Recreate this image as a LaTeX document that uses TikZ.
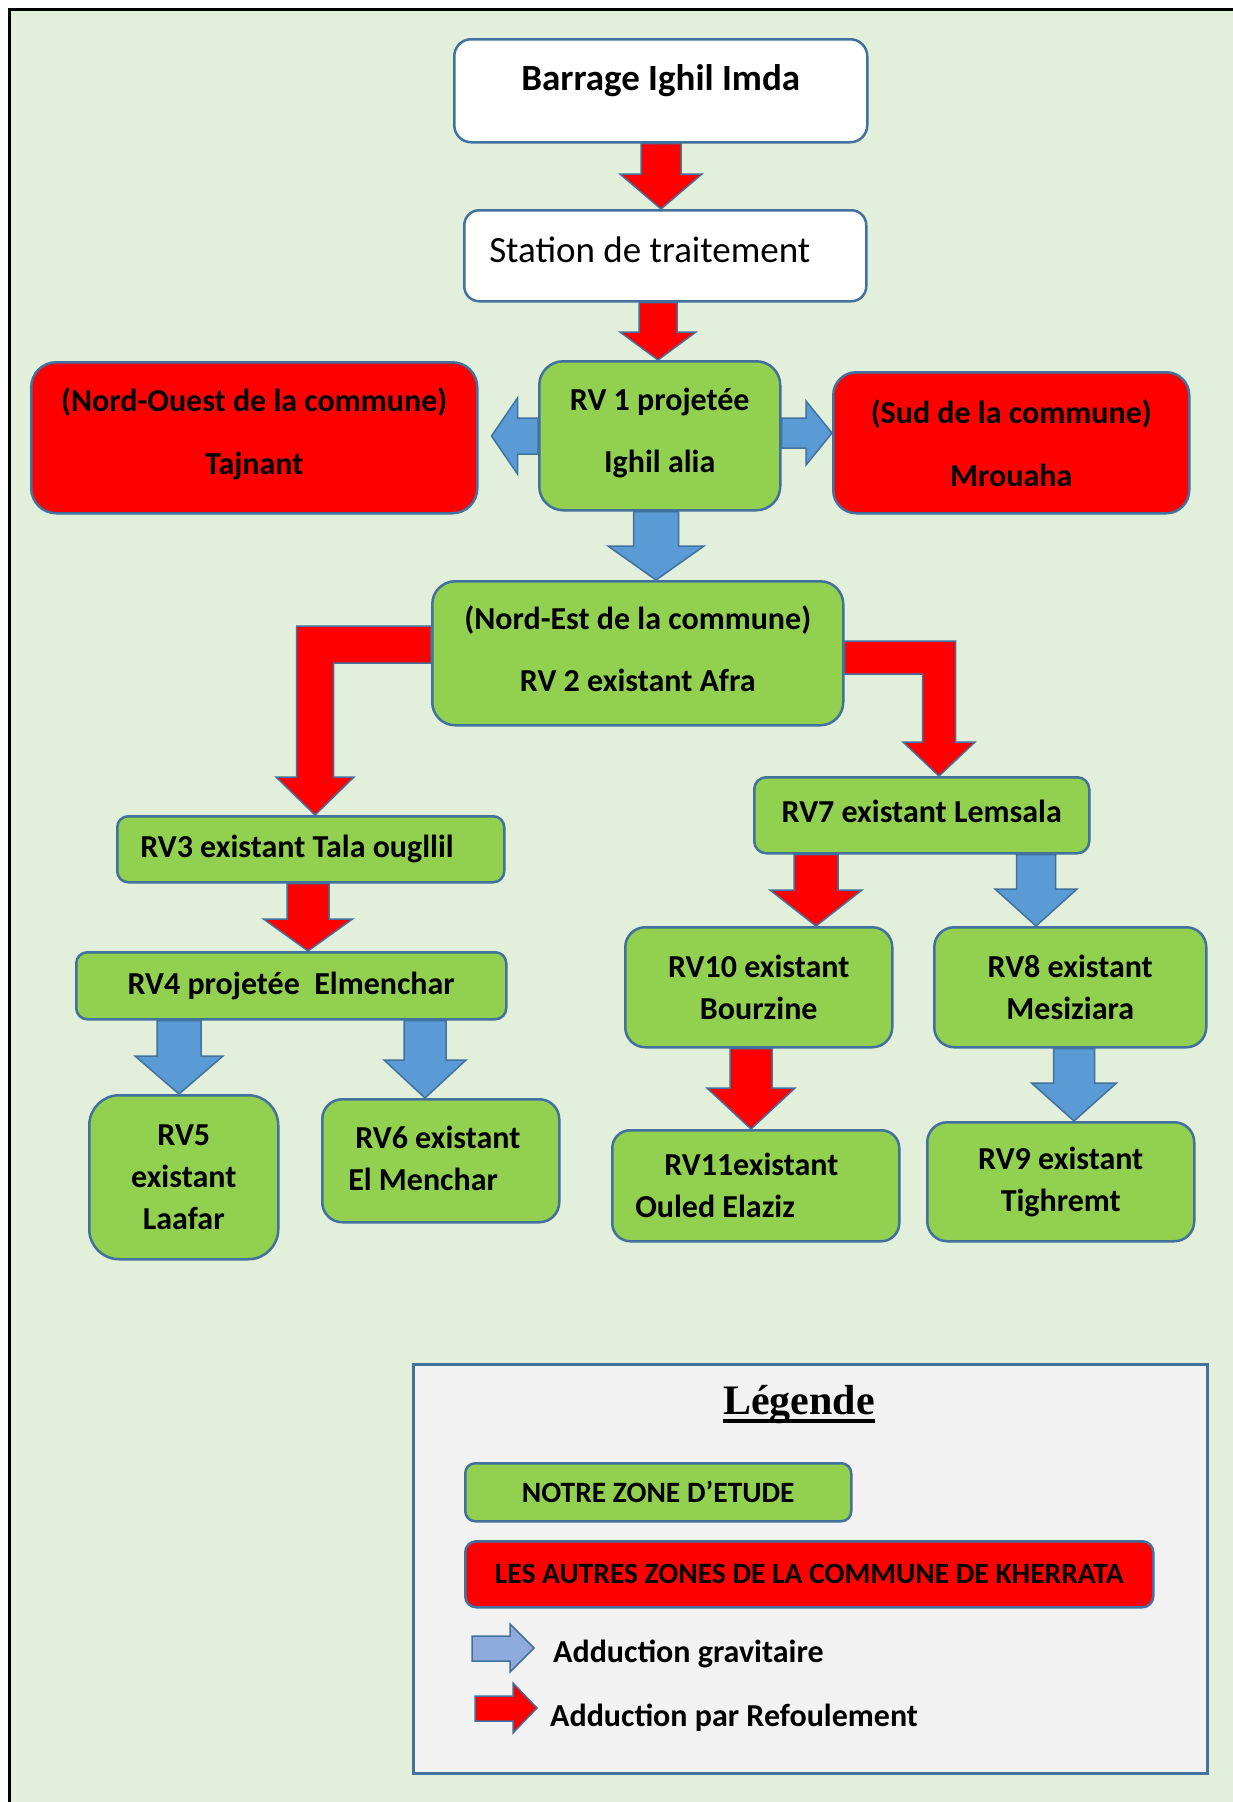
\documentclass[tikz,border=0pt]{standalone}
\usepackage{fontspec}
\setmainfont{Carlito}
\newfontfamily\timesfont{Liberation Serif}
\usetikzlibrary{calc}
\definecolor{bgg}{HTML}{E2EFDA}
\definecolor{boxg}{HTML}{92D050}
\definecolor{redc}{HTML}{FF0000}
\definecolor{bluec}{HTML}{5B9BD5}
\definecolor{bord}{HTML}{41719C}
\definecolor{legfill}{HTML}{F2F2F2}
\definecolor{lblue}{HTML}{8FAADC}

% vertical block arrow: style, x, top anchor, tip anchor, shaft half, head half, head length
\newcommand\vblk[7]{%
  \draw[#1] let \p1=(#3), \p2=(#4) in
   (#2pt-#5pt,\y1) -- (#2pt+#5pt,\y1) -- (#2pt+#5pt,\y2+#7pt) -- (#2pt+#6pt,\y2+#7pt)
   -- (#2pt,\y2) -- (#2pt-#6pt,\y2+#7pt) -- (#2pt-#5pt,\y2+#7pt) -- cycle;}
% horizontal block arrow: style, y, base anchor, tip anchor, shaft half, head half, signed head length
\newcommand\hblk[7]{%
  \draw[#1] let \p1=(#3), \p2=(#4) in
   (\x1,-#2pt+#5pt) -- (\x2+#7pt,-#2pt+#5pt) -- (\x2+#7pt,-#2pt+#6pt) -- (\x2,-#2pt)
   -- (\x2+#7pt,-#2pt-#6pt) -- (\x2+#7pt,-#2pt-#5pt) -- (\x1,-#2pt-#5pt) -- cycle;}

\tikzset{
  zbox/.style={draw=bord, line width=2.5pt, inner sep=0pt, anchor=north west, align=center,
    font=\bfseries\fontsize{32}{42}\selectfont},
  wh/.style 2 args={minimum width=#1pt, minimum height=#2pt},
  rc/.style={rounded corners=#1pt},
  gfill/.style={fill=boxg},
  rfill/.style={fill=redc},
  redarr/.style={draw=bord, line width=1.5pt, fill=redc},
  bluarr/.style={draw=bord, line width=1.5pt, fill=bluec},
}

\begin{document}
\begin{tikzpicture}[x=1pt,y=-1pt]
\useasboundingbox (0,0) rectangle (1233,1802);
\fill[white] (0,0) rectangle (1233,1802);
\fill[bgg] (9,9) rectangle (1233,1802);
\draw[black, line width=3pt] (9,1802) -- (9,9) -- (1233,9);

% boxes
\node[zbox, fill=white, wh={413}{103}, rc=17, text height=0pt, text depth=0pt,
  font=\bfseries\fontsize{37}{43}\selectfont] (barrage) at (453,38) {Barrage Ighil Imda};
\node[zbox, fill=white, wh={402}{91}, rc=15, font=\fontsize{37}{43}\selectfont,
  text width=352pt, inner xsep=25pt, align=flush left, text depth=12pt] (station) at (463,209) {Station de traitement};
\node[zbox, gfill, wh={241}{149}, rc=24, font=\bfseries\fontsize{32}{62}\selectfont, text depth=10pt] (rv1) at (538,360) {RV 1 projetée\\Ighil alia};
\node[zbox, rfill, wh={446}{151}, rc=25, font=\bfseries\fontsize{32}{63}\selectfont, text depth=14pt] (nw) at (30,361) {(Nord-Ouest de la commune)\\Tajnant};
\node[zbox, rfill, wh={356}{141}, rc=23, font=\bfseries\fontsize{32}{63}\selectfont] (sud) at (832,371) {(Sud de la commune)\\Mrouaha};
\node[zbox, gfill, wh={411}{144}, rc=23, font=\bfseries\fontsize{32}{62}\selectfont, text depth=9pt] (rv2) at (431,580) {(Nord-Est de la commune)\\RV 2 existant Afra};
\node[zbox, gfill, wh={387}{66}, rc=11, text width=341pt, inner xsep=23pt, align=flush left] (rv3) at (116,815) {RV3 existant Tala ougllil};
\node[zbox, gfill, wh={335}{76}, rc=12, text depth=7pt] (rv7) at (753,776) {RV7 existant Lemsala};
\node[zbox, gfill, wh={430}{67}, rc=11] (rv4) at (75,951) {RV4 projetée~ Elmenchar};
\node[zbox, gfill, wh={267}{120}, rc=20] (rv10) at (624,926) {RV10 existant\\Bourzine};
\node[zbox, gfill, wh={272}{120}, rc=20] (rv8) at (933,926) {RV8 existant\\Mesiziara};
\node[zbox, gfill, wh={189}{164}, rc=30] (rv5) at (88,1094) {RV5\\existant\\Laafar};
\node[zbox, gfill, wh={237}{123}, rc=20, text width=185pt, inner xsep=26pt, align=flush left, text depth=47pt] (rv6) at (321,1098) {\hspace*{7pt}RV6 existant\\El Menchar};
\node[zbox, gfill, wh={287}{111}, rc=18, text width=241pt, inner xsep=23pt, align=flush left] (rv11) at (611,1129) {\hspace*{29pt}RV11existant\\Ouled Elaziz};
\node[zbox, gfill, wh={267}{119}, rc=20] (rv9) at (926,1121) {RV9 existant\\Tighremt};

% connectors (block arrows)
\vblk{redarr}{661}{barrage.south}{station.north}{20}{41}{35}
\vblk{redarr}{658}{station.south}{rv1.north}{19}{38}{28}
\hblk{bluarr}{436}{rv1.west}{$(nw.east)+(13,0)$}{18}{38}{26}
\hblk{bluarr}{433}{rv1.east}{sud.west}{15}{32}{-26}
\vblk{bluarr}{656}{rv1.south}{rv2.north}{22.5}{48}{34}
\draw[redarr] let \p1=(rv2.west |- 0,626), \p2=(315,0 |- rv3.north) in
  (\p1) -- (\x2-18.5pt,\y1) -- (\x2-18.5pt,\y2+38pt) -- (\x2-39pt,\y2+38pt) -- (\p2)
  -- (\x2+39pt,\y2+38pt) -- (\x2+18.5pt,\y2+38pt) -- (\x2+18.5pt,\y1-37pt) -- (\x1,\y1-37pt) -- cycle;
\draw[redarr] let \p1=(rv2.east |- 0,641), \p2=(939,0 |- rv7.north) in
  (\p1) -- (\x2+16.5pt,\y1) -- (\x2+16.5pt,\y2+34pt) -- (\x2+36pt,\y2+34pt) -- (\p2)
  -- (\x2-36pt,\y2+34pt) -- (\x2-16.5pt,\y2+34pt) -- (\x2-16.5pt,\y1-33pt) -- (\x1,\y1-33pt) -- cycle;
\vblk{redarr}{308}{rv3.south}{rv4.north}{21}{44.5}{32}
\vblk{bluarr}{179}{rv4.south}{rv5.north}{22}{44}{38}
\vblk{bluarr}{425}{rv4.south}{rv6.north}{21}{41}{38}
\vblk{redarr}{816}{rv7.south}{rv10.north}{22}{46}{36}
\vblk{bluarr}{1036}{rv7.south}{rv8.north}{19.5}{41}{37}
\vblk{redarr}{751}{rv10.south}{rv11.north}{21}{44}{41}
\vblk{bluarr}{1074}{rv8.south}{rv9.north}{20.5}{42.5}{38}

% legend
\node[draw=bord, line width=2.5pt, fill=legfill, anchor=north west, wh={794}{409}, inner sep=0pt] (legend) at (412,1363) {};
\node[font=\timesfont\bfseries\fontsize{42}{50}\selectfont, anchor=base, inner sep=0pt] (legtitle) at (799,1414) {Légende};
\draw[line width=4pt] ($(legtitle.base west)+(0,7)$) -- ($(legtitle.base east)+(0,7)$);
\node[zbox, gfill, wh={386}{58}, rc=10, font=\bfseries\fontsize{29.5}{34}\selectfont] (notre) at (464,1462) {NOTRE ZONE D’ETUDE};
\node[zbox, rfill, wh={688}{66}, rc=11, font=\bfseries\fontsize{29.5}{34}\selectfont] (autres) at (464,1540) {LES AUTRES ZONES DE LA COMMUNE DE KHERRATA};
\draw[draw=bord, line width=1.5pt, fill=lblue] (472,1636) -- (510,1636) -- (510,1624) -- (534,1648) -- (510,1672) -- (510,1661) -- (472,1661) -- cycle;
\draw[draw=bord, line width=1.5pt, fill=redc] (475,1696) -- (513,1696) -- (513,1683) -- (537,1708) -- (513,1733) -- (513,1721) -- (475,1721) -- cycle;
\node[anchor=base west, inner sep=0pt, font=\bfseries\fontsize{32}{36}\selectfont] (lg1) at (553,1662) {Adduction gravitaire};
\node[anchor=base west, inner sep=0pt, font=\bfseries\fontsize{32}{36}\selectfont] (lg2) at (550,1726) {Adduction par Refoulement};
\end{tikzpicture}
\end{document}
